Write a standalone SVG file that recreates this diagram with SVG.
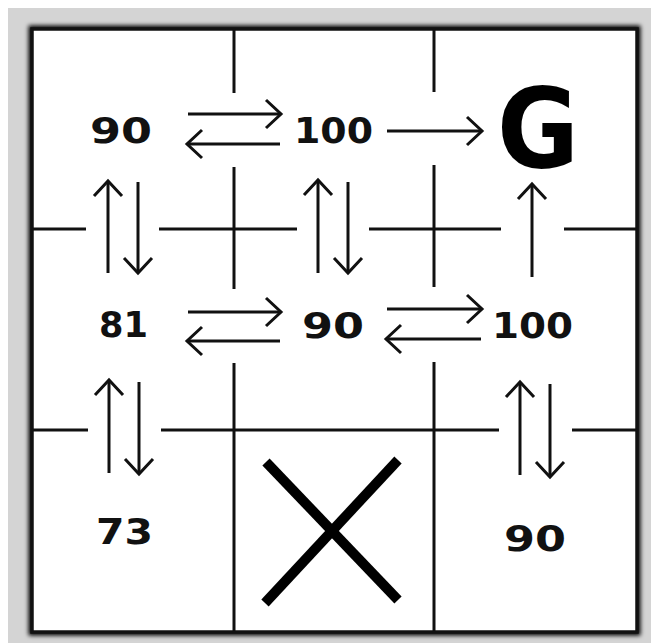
<svg xmlns="http://www.w3.org/2000/svg" width="651" height="643" viewBox="0 0 651 643">
<style>
.grid{stroke:#111;stroke-width:3;fill:none}
.arr{stroke:#111;stroke-width:3;fill:none;marker-end:url(#head)}
.num{font-family:"DejaVu Sans",sans-serif;font-weight:bold;font-size:36px;fill:#111}
.big{font-family:"DejaVu Sans",sans-serif;font-weight:bold;font-size:110px;fill:#000}
</style>
<defs>
<marker id="head" markerUnits="userSpaceOnUse" markerWidth="22" markerHeight="34" refX="18" refY="16" orient="auto" viewBox="0 0 22 34">
<path d="M3,2 L18,16 L3,30" fill="none" stroke="#111" stroke-width="3"/>
</marker>
<filter id="sh" x="-5%" y="-5%" width="110%" height="110%">
<feGaussianBlur stdDeviation="2.2"/>
</filter>
</defs>
<rect x="0" y="0" width="651" height="643" fill="#ffffff"/>
<rect x="8" y="8" width="643" height="635" fill="#d4d4d4"/>
<rect x="32" y="29" width="605" height="603" fill="none" stroke="#000" stroke-width="7" filter="url(#sh)"/>
<rect id="board" x="32" y="29" width="605" height="603" fill="#ffffff" stroke="#111" stroke-width="3.5"/>
<g id="grid">
<line class="grid" x1="234" y1="29" x2="234" y2="93"/>
<line class="grid" x1="234" y1="167" x2="234" y2="289"/>
<line class="grid" x1="234" y1="363" x2="234" y2="632"/>
<line class="grid" x1="434" y1="29" x2="434" y2="92"/>
<line class="grid" x1="434" y1="165" x2="434" y2="287"/>
<line class="grid" x1="434" y1="362" x2="434" y2="632"/>
<line class="grid" x1="32" y1="229" x2="86" y2="229"/>
<line class="grid" x1="159" y1="229" x2="297" y2="229"/>
<line class="grid" x1="369" y1="229" x2="501" y2="229"/>
<line class="grid" x1="564" y1="229" x2="637" y2="229"/>
<line class="grid" x1="32" y1="430" x2="88" y2="430"/>
<line class="grid" x1="161" y1="430" x2="499" y2="430"/>
<line class="grid" x1="572" y1="430" x2="637" y2="430"/>
</g>
<g id="s00"><text class="num" x="90" y="143" textLength="62" lengthAdjust="spacingAndGlyphs">90</text></g>
<g id="s01"><text class="num" x="294" y="143" textLength="79" lengthAdjust="spacingAndGlyphs">100</text></g>
<g id="s02"><text class="big" x="497" y="167" textLength="82" lengthAdjust="spacingAndGlyphs">G</text></g>
<g id="s10"><text class="num" x="99" y="337" textLength="49" lengthAdjust="spacingAndGlyphs">81</text></g>
<g id="s11"><text class="num" x="302" y="338" textLength="62" lengthAdjust="spacingAndGlyphs">90</text></g>
<g id="s12"><text class="num" x="492" y="338" textLength="81" lengthAdjust="spacingAndGlyphs">100</text></g>
<g id="s20"><text class="num" x="96" y="544" textLength="57" lengthAdjust="spacingAndGlyphs">73</text></g>
<g id="s21"><line x1="266" y1="462" x2="398" y2="600" stroke="#000" stroke-width="10"/><line x1="398" y1="460" x2="265" y2="603" stroke="#000" stroke-width="10"/></g>
<g id="s22"><text class="num" x="504" y="551" textLength="62" lengthAdjust="spacingAndGlyphs">90</text></g>
<g id="connectors">
<line class="arr" x1="188" y1="114" x2="281" y2="114"/>
<line class="arr" x1="280" y1="144" x2="187" y2="144"/>
<line class="arr" x1="387" y1="131" x2="482" y2="131"/>
<line class="arr" x1="188" y1="312" x2="281" y2="312"/>
<line class="arr" x1="280" y1="341" x2="187" y2="341"/>
<line class="arr" x1="387" y1="309" x2="482" y2="309"/>
<line class="arr" x1="481" y1="339" x2="386" y2="339"/>
<line class="arr" x1="108" y1="273" x2="108" y2="181"/>
<line class="arr" x1="138" y1="182" x2="138" y2="273"/>
<line class="arr" x1="318" y1="273" x2="318" y2="180"/>
<line class="arr" x1="348" y1="182" x2="348" y2="273"/>
<line class="arr" x1="532" y1="277" x2="532" y2="184"/>
<line class="arr" x1="109" y1="473" x2="109" y2="380"/>
<line class="arr" x1="139" y1="382" x2="139" y2="474"/>
<line class="arr" x1="520" y1="475" x2="520" y2="382"/>
<line class="arr" x1="550" y1="384" x2="550" y2="477"/>
</g>
</svg>
